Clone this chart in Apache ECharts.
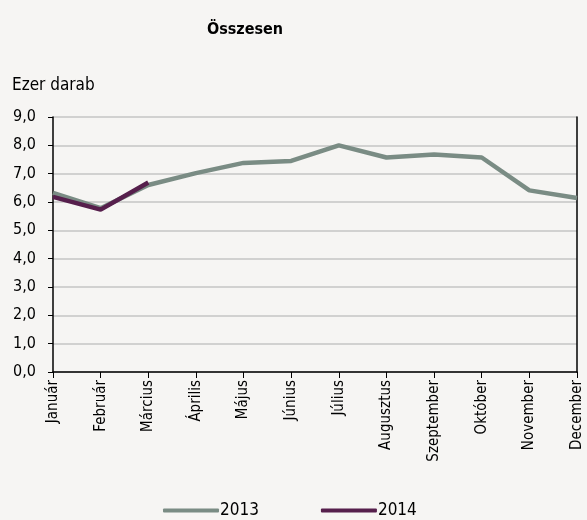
<!DOCTYPE html>
<html>
<head>
<meta charset="utf-8">
<script src="https://cdn.jsdelivr.net/npm/echarts@6/dist/echarts.min.js"></script>
<style>
  html, body { margin: 0; padding: 0; background: #f6f5f3; }
  #chart { width: 587px; height: 520px; }
</style>
</head>
<body>
<div id="chart"></div>
<script>
  var months = ['Január', 'Február', 'Március', 'Április', 'Május', 'Június', 'Július',
    'Augusztus', 'Szeptember', 'Október', 'November', 'December']
  var values2013 = [6.32, 5.78, 6.6, 7.02, 7.38, 7.45, 8.0, 7.57, 7.68, 7.57, 6.41, 6.14]
  var values2014 = [6.18, 5.73, 6.69]
  var yTicks = [0, 1, 2, 3, 4, 5, 6, 7, 8, 9]

  var font = '"DejaVu Sans Condensed", "Liberation Sans Narrow", "Liberation Sans", Arial, sans-serif'
  var myChart = echarts.init(document.getElementById('chart'))
  myChart.setOption({
    backgroundColor: '#f6f5f3',
    textStyle: { fontFamily: font, color: '#000' },
    title: [
      { text: 'Összesen', left: 240, top: 17, textAlign: 'center',
        textStyle: { fontFamily: font, fontSize: 16, fontWeight: 'bold', color: '#000' } },
      { text: 'Ezer darab', left: 7, top: 72,
        textStyle: { fontFamily: font, fontSize: 17, fontWeight: 'normal', color: '#000' } }
    ],
    legend: {
      bottom: -4,
      left: 158,
      itemGap: 62,
      itemWidth: 56,
      itemHeight: 4,
      icon: 'roundRect',
      textStyle: { fontFamily: font, fontSize: 17, color: '#000', padding: [0, 0, 0, -4] },
      data: ['2013', '2014']
    },
    grid: { left: 53, right: 10, top: 117, bottom: 148 },
    xAxis: {
      type: 'category',
      data: months,
      boundaryGap: false,
      axisLine: { lineStyle: { color: '#000', width: 1.5 } },
      axisTick: { show: true, alignWithLabel: true, length: 6, lineStyle: { color: '#000' } },
      axisLabel: { rotate: 90, fontFamily: font, fontSize: 15, color: '#000', margin: 8, interval: 0 }
    },
    yAxis: [
      {
        type: 'value',
        min: yTicks[0],
        max: yTicks[yTicks.length - 1],
        interval: 1,
        axisLine: { show: true, lineStyle: { color: '#000', width: 1.5 } },
        axisTick: { show: true, length: 5, lineStyle: { color: '#000' } },
        axisLabel: {
          fontFamily: font, fontSize: 16, color: '#000', margin: 17,
          formatter: function (v) { return v.toFixed(1).replace('.', ',') }
        },
        splitLine: { lineStyle: { color: '#c4c4c4', width: 1.5 } }
      },
      {
        type: 'value',
        min: yTicks[0],
        max: yTicks[yTicks.length - 1],
        interval: 1,
        position: 'right',
        axisLine: { show: true, lineStyle: { color: '#000', width: 1.5 } },
        axisTick: { show: false },
        axisLabel: { show: false },
        splitLine: { show: false }
      }
    ],
    series: [
      {
        name: '2013',
        type: 'line',
        data: values2013,
        symbol: 'none',
        color: '#7a8c84',
        lineStyle: { width: 4.5, color: '#7a8c84' }
      },
      {
        name: '2014',
        type: 'line',
        data: values2014,
        symbol: 'none',
        color: '#561f4c',
        lineStyle: { width: 4.5, color: '#561f4c' }
      }
    ]
  })
</script>
</body>
</html>
